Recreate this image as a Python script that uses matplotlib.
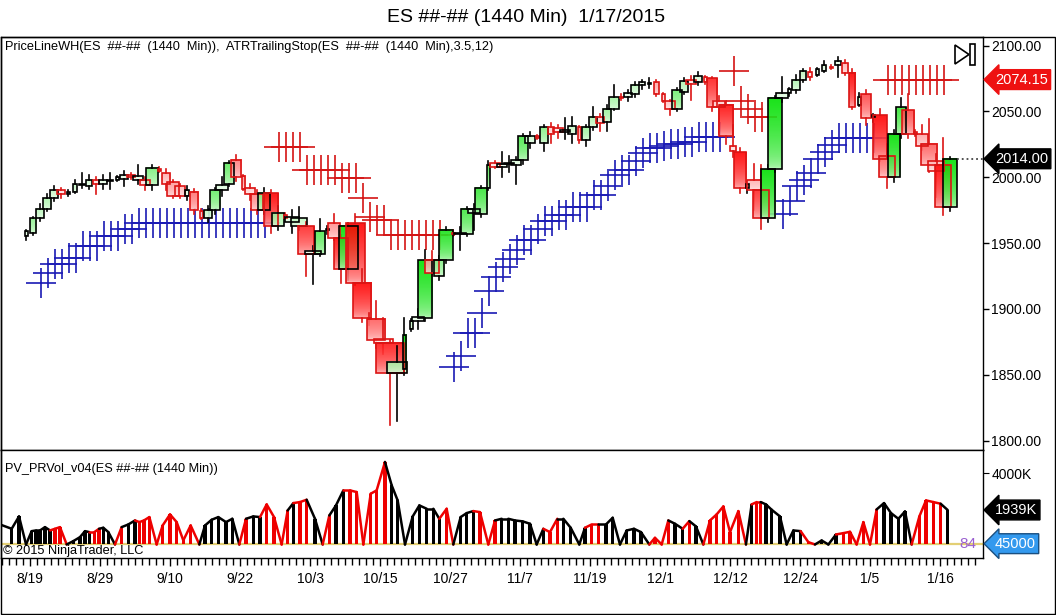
import numpy as np
import matplotlib
matplotlib.use("Agg")
import matplotlib.pyplot as plt
from matplotlib.patches import Rectangle, Polygon
from matplotlib.colors import to_rgb

plt.rcParams['font.family'] = ['Liberation Sans', 'DejaVu Sans']

# daily bars (1440 min, Sunday sessions included)
opens = [1955, 1958, 1969, 1976, 1984, 1990, 1987, 1989, 1994, 1993, 1998, 1995, 1997, 1998, 1999, 2001.5,
         1998, 1998, 1994, 2006, 2003, 1996, 1993, 1986, 1989, 1974, 1969, 1975, 1990, 1995, 2013, 2001,
         1992, 1987, 1975, 1988, 1963, 1971, 1966, 1963, 1963, 1942, 1942, 1960, 1965, 1954, 1930, 1965,
         1920, 1893, 1892, 1877, 1874, 1851, 1854, 1885, 1891, 1893, 1937, 1925, 1937, 1958, 1957, 1957,
         1973, 1972, 1992, 2011, 2008, 2010, 2009, 2013, 2026, 2031, 2026, 2038, 2037, 2034, 2033, 2038,
         2028, 2038, 2046, 2042, 2052, 2061, 2061, 2063, 2070, 2071, 2072, 2063, 2058, 2052, 2065, 2074,
         2072, 2076, 2075, 2058, 2055, 2024, 2019, 1992, 1998, 1990, 1969, 2006, 2060, 2064, 2066, 2074,
         2080, 2078, 2081, 2084, 2085, 2087, 2079.5, 2055, 2063, 2046, 2047, 2016, 2000, 2033, 2051, 2034,
         2033, 2025, 2012, 2009, 1977]
highs = [1960, 1970, 1980, 1987, 1993, 1992, 1990, 1998, 2003, 2002, 2000, 2002, 2003, 2001, 2005, 2003,
         2009, 2000, 2009, 2008, 2006, 1998, 1995, 1993, 1991, 1976, 1978, 1992, 2000, 2012, 2017, 2002,
         1995, 1990, 1992, 1990, 1978, 1973, 1975, 1977, 1966, 1948, 1968, 1963, 1972, 1956, 1965, 1972,
         1930, 1897, 1906, 1893, 1876, 1872, 1893, 1892, 1900, 1945, 1944, 1940, 1962, 1960, 1962, 1977,
         1980, 1993, 2012, 2012, 2019, 2016, 2015, 2033, 2034, 2032, 2040, 2041, 2040, 2045, 2046, 2039,
         2040, 2053, 2048, 2055, 2070, 2063, 2066, 2072, 2074, 2075, 2074, 2064, 2059, 2068, 2075, 2077,
         2080, 2077, 2076, 2062, 2058, 2040, 2022, 1996, 2010, 2009, 2009, 2062, 2076, 2068, 2078, 2082,
         2083, 2083, 2088, 2085, 2091, 2089, 2082, 2064, 2066, 2048, 2052, 2025, 2036, 2060, 2063, 2036,
         2040, 2044, 2018, 2030, 2015]
lows = [1952, 1956, 1967, 1974, 1982, 1984, 1986, 1988, 1992, 1991, 1987, 1991, 1991, 1997, 1993, 1999,
        1995, 1990, 1990, 2004, 1990, 1984, 1984, 1983, 1972, 1968, 1966, 1972, 1986, 1993, 1997, 1990,
        1983, 1972, 1972, 1958, 1960, 1968, 1958, 1960, 1925, 1919, 1940, 1957, 1952, 1920, 1922, 1918,
        1890, 1888, 1870, 1866, 1812, 1815, 1850, 1883, 1885, 1891, 1925, 1922, 1935, 1955, 1945, 1955,
        1960, 1970, 1990, 2007, 2000, 2004, 1995, 2010, 2022, 2029, 2020, 2026, 2030, 2029, 2026, 2026,
        2024, 2036, 2035, 2035, 2051, 2059, 2058, 2061, 2067, 2068, 2062, 2057, 2047, 2050, 2063, 2059,
        2070, 2071, 2050, 2033, 2025, 2015, 1988, 1988, 1975, 1961, 1966, 2004, 2057, 2062, 2064, 2072,
        2074, 2077, 2080, 2082, 2076, 2078, 2052, 2054, 2040, 2042, 2012, 1992, 1996, 2030, 2030, 2031,
        2021, 2004, 1985, 1971, 1974]
closes = [1959, 1969, 1976, 1984, 1990, 1987, 1989, 1995, 1995, 1998, 1995, 1998, 1998, 2000, 2002, 2000.5,
          2001, 1994, 2007, 2005, 1995, 1986, 1986, 1990, 1975, 1969, 1975, 1990, 1994, 2011, 2000, 1991,
          1987, 1975, 1988, 1963, 1973, 1969, 1970, 1969, 1942, 1944, 1959, 1961, 1954, 1930, 1963, 1920,
          1893, 1892, 1876, 1874, 1851, 1860, 1880, 1891, 1894, 1937, 1927, 1937, 1960, 1957, 1958, 1976,
          1976, 1992, 2009, 2008, 2010, 2011, 2013, 2031, 2031, 2030, 2038, 2033, 2034, 2036, 2039, 2028,
          2038, 2046, 2041, 2052, 2061, 2060, 2064, 2070, 2072, 2071, 2063, 2058, 2052, 2066, 2073, 2071,
          2076.5, 2072, 2053, 2053, 2031, 2020, 1992, 1995, 1990, 1969, 2006, 2060, 2064, 2067, 2074, 2081,
          2076, 2082, 2085, 2083, 2088, 2079.5, 2053, 2061, 2045, 2047, 2014, 2000, 2033, 2053, 2033, 2033,
          2024, 2009, 2005, 1977, 2014]

# ATRTrailingStop(3.5, 12): long stop (blue) and short stop (red), None = no mark
stop_long = ([None] * 3
             + [1920, 1927, 1934, 1934, 1939, 1939, 1948, 1948, 1948, 1955, 1955, 1955, 1961, 1961]
             + [1965, 1965, 1965, 1965, 1965, 1965, 1965, 1965, 1965, 1965, 1965, 1965, 1965, 1965,
                1965, 1965, 1965, 1965, 1965]
             + [None] * 26
             + [1855.5, 1864.4, 1882, 1882, 1896.5, 1913.8, 1924, 1932, 1938, 1945, 1952, 1952, 1961,
                1967, 1967, 1971.6, 1971.6, 1977.6, 1977.6, 1977.6, 1986.8, 1986.8, 1993.6, 2002,
                2005.8, 2005.8, 2012.6, 2018.7, 2022.5, 2022.5, 2024, 2025, 2025.5, 2026.5, 2026.5,
                2030.8, 2030.8, 2030.8, 2030.8]
             + [None] * 8
             + [1972, 1982, 1993.6, 1998, 2003.5, 2014, 2019, 2024.8, 2030, 2030, 2030, 2030, 2030, 2030]
             + [None] * 10)
stop_short = ([None] * 37
              + [2023.2, 2023.2, 2023.2, 2023.2, 2005.5, 2005.5, 2005.5, 2005.5, 2005.5, 1999.4, 1999.4,
                 1999.4, 1984.3, 1969.5, 1967.5, 1967.5, 1956, 1956, 1956, 1956, 1956, 1956, 1956, 1956]
              + [None] * 41
              + [2081, 2058, 2052, 2046, 2046]
              + [None] * 17
              + [2074.15, 2074.15, 2074.15, 2074.15, 2074.15, 2074.15, 2074.15, 2074.15, 2074.15])

# PV_PRVol_v04 points (bar position, value in K, colour)
vol_x = [-2.86, -1.19, -0.14, 0.86, 1.67, 2.29, 2.86, 3.57, 4.29, 5.0, 5.71, 6.67, 7.62, 8.57, 9.29,
         9.9, 10.62, 11.29, 11.9, 12.62, 13.57, 14.52, 15.48, 16.43, 17.05, 17.71, 18.48, 19.52, 20.38,
         21.43, 22.38, 23.33, 24.38, 25.62, 26.43, 27.38, 28.33, 29.43, 30.33, 31.33, 32.29, 33.33,
         34.29, 35.24, 36.29, 37.38, 38.24, 39.05, 40.0, 40.95, 42.14, 43.24, 44.19, 45.14, 46.19,
         47.14, 48.1, 49.05, 50.1, 50.95, 52.14, 53.1, 53.95, 55.0, 56.1, 57.05, 58.1, 59.05, 59.9,
         60.95, 61.9, 62.95, 63.81, 64.76, 65.71, 66.9, 67.86, 68.81, 69.76, 70.71, 71.8,
         72.86, 73.81, 74.76, 75.71, 76.76, 77.62, 78.67, 79.9, 80.71, 81.67, 82.62, 83.71, 84.67,
         85.71, 86.67, 87.71, 88.71, 89.9, 90.71, 91.67, 92.62, 93.57, 94.67, 95.62, 96.57, 97.62,
         98.57, 99.52, 100.48, 101.43, 102.62, 103.71, 104.52, 105.24, 105.81, 106.57, 107.38, 108.57,
         109.52, 110.48, 111.52, 112.62, 113.57, 114.52, 115.48, 116.57, 117.62, 118.57, 119.52,
         120.48, 121.43, 122.38, 123.43, 124.43, 125.48, 126.43, 127.38, 128.48, 129.43, 130.48,
         131.52, 132.52]
vol_k = [1126, 882, 1577, 0, 750, 790, 790, 976, 790, 882, 976, 0, 190, 413, 750, 695, 695, 882, 940,
         695, 0, 976, 1126, 1351, 1258, 1351, 1540, 0, 1070, 1690, 1258, 230, 1070, 0, 1070, 1390,
         1540, 1258, 1445, 0, 1445, 1577, 1540, 2252, 1540, 0, 1915, 2327, 2384, 2515, 1445, 0, 1633,
         2196, 3040, 3040, 2947, 0, 2853, 3040, 4636, 3322, 2478, 0, 1577, 2196, 2008, 2008, 1445,
         2008, 0, 1540, 1764, 1877, 1820, 0, 1351, 1445, 1445, 1351, 1300,
         1164, 0, 882, 695, 1445, 1445, 939, 0, 939, 1126, 1126, 1126, 1502, 0, 788, 882, 695, 0, 375,
         0, 1351, 1164, 882, 1314, 1014, 0, 1351, 1690, 2140, 695, 1877, 0, 2252, 2384, 2384, 2252,
         1952, 1577, 0, 788, 750, 131, 0, 225, 0, 563, 638, 713, 0, 1258, 0, 1971, 2327, 1764, 1445,
         1858, 0, 1577, 2478, 2384, 2290, 1939]
vol_c = ("kkkkkkkkk" "rrr" "kkkk" "rr" "kkk" "r" "kk" "rrrrrrrrrr" "kkkkkk" "r" "kk" "rrrr" "k" "rr"
         "kk" "r" "kk" "rrrrrr" "kkkkkkkk" "rr" "kkk" "rrr" "kkkkkkk" "rr" "kkkk" "rr" "kkkkkk"
         "rrrr" "kk" "r" "k" "rrrrrr" "kk" "rr" "kkkkkk" "rr" "kkk" "rrrrrr" "kkkk" "rrrrr" "k")

date_labels = ["8/19", "8/29", "9/10", "9/22", "10/3", "10/15", "10/27", "11/7", "11/19", "12/1",
               "12/12", "12/24", "1/5", "1/16"]
price_ticks = [1800, 1850, 1900, 1950, 2000, 2050, 2100]
last_close = 2014.00
stop_now = 2074.15
last_vol = 1939
vol_floor = 45000
floor_count = 84

n = len(closes)
assert len(opens) == len(highs) == len(lows) == n == 133
assert len(stop_long) == len(stop_short) == n
assert len(vol_x) == len(vol_k) == len(vol_c)

W, H = 1056, 615
fx = lambda px: px / W
fy = lambda py: 1 - py / H

fig = plt.figure(figsize=(W / 100, H / 100), dpi=100)
ax = fig.add_axes([fx(1), fy(450), fx(983) - fx(1), fy(37) - fy(450)])
axv = fig.add_axes([fx(1), fy(558), fx(983) - fx(1), fy(450) - fy(558)], sharex=ax)

xmin, xmax = (1 - 20) / 7, (983 - 20) / 7
bars = np.arange(n)

# stops first, candles drawn over them
sl = np.array(stop_long, dtype=float)
ss = np.array(stop_short, dtype=float)
ax.plot(bars, sl, ls='none', marker='+', ms=22, mew=1.2, color='#1a1ab4', zorder=2)
ax.plot(bars, ss, ls='none', marker='+', ms=22, mew=1.2, color='#d41414', zorder=2)

vx = np.array(vol_x)
vk = np.array(vol_k, dtype=float)
green = np.array(to_rgb('#00e000'))
red = np.array(to_rgb('#ff0000'))
ramp = np.linspace(0, 1, 40) ** 0.5
for j in range(n):
    o, hi, lo, c = opens[j], highs[j], lows[j], closes[j]
    cx = j + 0.86
    vnear = vk[np.argmin(np.abs(vx - (j + 0.5)))]
    w = (3 + vnear / 190) / 7
    up = c >= o
    base = green if up else red
    edge = 'black' if up else '#dc1414'
    s = np.clip(abs(c - o) / 25, 0.05, 1)
    top_c = 1 - s * (1 - base)
    bot_c = 1 - 0.3 * s * (1 - base)
    b0, b1 = min(o, c), max(o, c)
    if b1 - b0 < 0.7:
        b1 = b0 + 0.7
    grad = (bot_c + ramp[:, None] * (top_c - bot_c))[:, None, :]
    ax.imshow(grad, extent=[cx - w / 2, cx + w / 2, b0, b1], origin='lower', aspect='auto',
              interpolation='bilinear', alpha=0.9, zorder=3)
    ax.add_patch(Rectangle((cx - w / 2, b0), w, b1 - b0, fill=False, ec=edge, lw=1.2, zorder=4))
    ax.plot([cx, cx], [b1, hi], color=edge, lw=1.2, zorder=3)
    ax.plot([cx, cx], [lo, b0], color=edge, lw=1.2, zorder=3)

last_edge = n - 1 + 0.86 + (3 + vk[-1] / 190) / 14
ax.plot([last_edge, xmax], [last_close, last_close], ls=':', color='#444444', lw=1.3, zorder=5)

ax.set_xlim(xmin, xmax)
ax.set_ylim(1792.8, 2106.5)
ax.yaxis.tick_right()
ax.set_yticks(price_ticks)
ax.set_yticklabels([f"{p:.2f}" for p in price_ticks])
ax.tick_params(axis='y', direction='out', length=4, width=1, pad=2, labelsize=10)
ax.tick_params(axis='x', bottom=False, labelbottom=False)
for sp in ax.spines.values():
    sp.set_linewidth(1.0)

yt = ax.get_yaxis_transform()
ax.text(1.012, stop_now, f"{stop_now:.2f}", transform=yt, ha='left', va='center', color='white',
        fontsize=10.5, bbox=dict(boxstyle='larrow,pad=0.2', fc='#ee1111', ec='#ee1111'), clip_on=False)
ax.text(1.012, last_close, f"{last_close:.2f}", transform=yt, ha='left', va='center', color='white',
        fontsize=10.5, bbox=dict(boxstyle='larrow,pad=0.2', fc='black', ec='black'), clip_on=False)

# volume panel
cmap = {'k': 'black', 'r': '#ee0000'}
cols = [cmap[ch] for ch in vol_c]
pos = vk > 0
axv.bar(vx[pos], vk[pos], width=0.45, color=[cols[i] for i in np.where(pos)[0]], zorder=3)
for i in range(len(vx) - 1):
    seg_col = cols[i + 1] if vk[i + 1] > 0 else cols[i]
    axv.plot(vx[i:i + 2], vk[i:i + 2], color=seg_col, lw=1.8, zorder=4, solid_capstyle='round')
axv.axhline(vol_floor / 1000, color='#e3cf74', lw=1.6, zorder=2)

axv.set_ylim(-760, 5311)
axv.yaxis.tick_right()
axv.set_yticks([4000])
axv.set_yticklabels(["4000K"])
axv.tick_params(axis='y', direction='out', length=4, pad=2, labelsize=10)
yv = axv.get_yaxis_transform()
axv.text(1.012, last_vol, f"{last_vol}K", transform=yv, ha='left', va='center', color='white',
         fontsize=10.5, bbox=dict(boxstyle='larrow,pad=0.2', fc='black', ec='black'), clip_on=False)
axv.text(1.012, vol_floor / 1000, f"{vol_floor}", transform=yv, ha='left', va='center', color='white',
         fontsize=10.5, bbox=dict(boxstyle='larrow,pad=0.2', fc='#3399ee', ec='#1a4f80'), clip_on=False)
axv.text(0.993, vol_floor / 1000, f"{floor_count}", transform=yv, ha='right', va='center',
         color='#9a5fd0', fontsize=11)

major = [1.43 + 10 * k for k in range(len(date_labels))]
axv.set_xticks(major)
axv.set_xticklabels(date_labels)
axv.set_xticks([b - 0.57 for b in range(-2, 138)], minor=True)
axv.tick_params(axis='x', which='major', direction='out', length=6, width=1, pad=4, labelsize=10)
axv.tick_params(axis='x', which='minor', direction='out', length=5, width=1)
axv.set_xlim(xmin, xmax)
for sp in axv.spines.values():
    sp.set_linewidth(1.0)

# texts
fig.text(fx(526), fy(17), "ES ##-## (1440 Min)  1/17/2015", ha='center', va='center', fontsize=14)
fig.text(fx(5), fy(47), "PriceLineWH(ES  ##-##  (1440  Min)),  ATRTrailingStop(ES  ##-##  (1440  Min),3.5,12)",
         ha='left', va='center', fontsize=9.2)
fig.text(fx(5), fy(469), "PV_PRVol_v04(ES ##-## (1440 Min))", ha='left', va='center', fontsize=9.2)
fig.text(fx(3), fy(551), "\u00a9 2015 NinjaTrader, LLC", ha='left', va='center', fontsize=9.2)

# "go to last bar" icon
fig.add_artist(Polygon([(fx(955), fy(45)), (fx(955), fy(64)), (fx(969), fy(54.5))], closed=True,
                       fill=False, ec='black', lw=1.2, transform=fig.transFigure))
fig.add_artist(Rectangle((fx(970), fy(65)), fx(5), fy(44) - fy(65), fill=False, ec='black', lw=1.2,
                         transform=fig.transFigure))
# outer frame
fig.add_artist(Rectangle((fx(0.5), fy(613.5)), fx(1055) - fx(0.5), fy(37) - fy(613.5), fill=False,
                         ec='black', lw=1.0, transform=fig.transFigure))

fig.savefig("out.png", dpi=100)
